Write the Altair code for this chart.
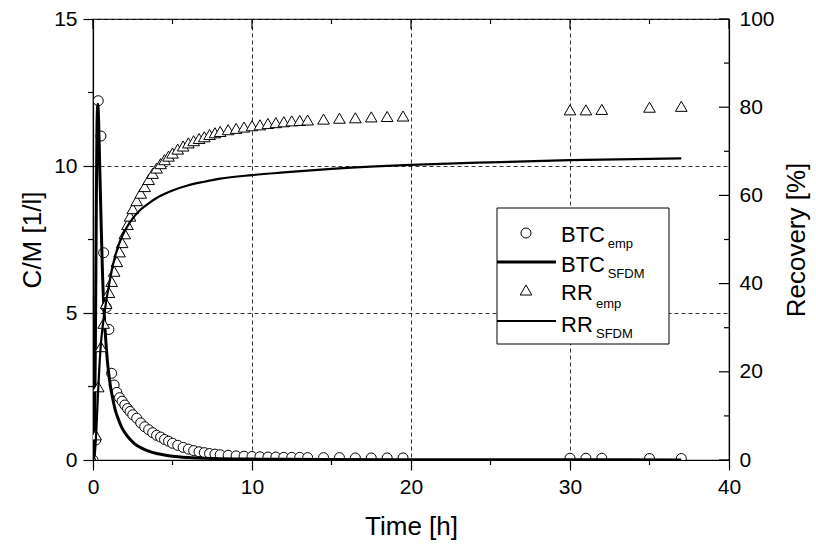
import altair as alt
import pandas as pd

# ---------------- data ----------------
t_emp = [0, 0.17, 0.33, 0.5, 0.67, 0.83, 1.0, 1.17, 1.33, 1.5, 1.67, 1.83, 2.0, 2.17, 2.33, 2.5,
         2.75, 3.0, 3.25, 3.5, 3.75, 4.0, 4.25, 4.5, 4.75, 5.0, 5.33, 5.67, 6.0, 6.33, 6.67, 7.0,
         7.33, 7.67, 8.0, 8.5, 9.0, 9.5, 10.0, 10.5, 11.0, 11.5, 12.0, 12.5, 13.0, 13.5, 14.5,
         15.5, 16.5, 17.5, 18.5, 19.5, 30, 31, 32, 35, 37]
btc_emp = [0, 0.68, 12.22, 11.02, 7.05, 5.19, 4.44, 2.95, 2.55, 2.3, 2.12, 2.0, 1.87, 1.75, 1.65, 1.54,
           1.42, 1.26, 1.13, 1.03, 0.93, 0.84, 0.78, 0.70, 0.64, 0.57, 0.50, 0.43, 0.37, 0.32, 0.28, 0.25,
           0.22, 0.20, 0.18, 0.16, 0.14, 0.13, 0.12, 0.11, 0.10, 0.10, 0.09, 0.09, 0.09, 0.08, 0.08,
           0.08, 0.07, 0.07, 0.07, 0.07, 0.06, 0.06, 0.06, 0.05, 0.05]
rr_emp = [0, 5.7, 16.6, 25.7, 31.0, 35.5, 38.0, 40.5, 42.8, 45.0, 47.2, 49.3, 51.3, 53.4, 55.3, 57.0,
          58.8, 60.5, 62.0, 63.6, 65.0, 66.2, 67.2, 68.1, 68.9, 69.6, 70.5, 71.2, 71.9, 72.4, 72.9, 73.3,
          73.8, 74.2, 74.5, 74.9, 75.2, 75.5, 75.8, 76.0, 76.3, 76.5, 76.7, 76.9, 77.0, 77.1, 77.3,
          77.5, 77.6, 77.8, 77.9, 78.0, 79.4, 79.4, 79.5, 80.0, 80.2]

t_btc_sfdm = [0, 0.05, 0.1, 0.15, 0.2, 0.25, 0.3, 0.35, 0.4, 0.5, 0.6, 0.7, 0.8, 0.9, 1.0, 1.1, 1.2,
              1.4, 1.6, 1.8, 2.0, 2.3, 2.6, 3.0, 3.5, 4.0, 4.5, 5, 6, 7, 8, 9, 10, 12, 15, 20, 25, 30, 37]
btc_sfdm = [0, 0.2, 1.2, 4.0, 8.0, 11.3, 12.1, 11.6, 10.5, 8.3, 6.3, 5.0, 4.1, 3.4, 2.9, 2.5, 2.2,
            1.7, 1.38, 1.12, 0.93, 0.72, 0.56, 0.42, 0.30, 0.22, 0.17, 0.13, 0.085, 0.06, 0.045, 0.035,
            0.03, 0.022, 0.016, 0.011, 0.008, 0.006, 0.004]

t_rr_sfdm = [0, 0.1, 0.2, 0.3, 0.4, 0.5, 0.6, 0.7, 0.8, 1.0, 1.2, 1.4, 1.7, 2.0, 2.5, 3.0, 3.5, 4,
             5, 6, 7, 8, 10, 12, 15, 20, 25, 30, 37]
rr_sfdm = [0, 1, 6, 14, 21, 26.5, 30, 32.8, 35.3, 39.5, 43.3, 46.3, 49.6, 52.0, 54.8, 56.8, 58.2, 59.4,
           61.1, 62.3, 63.1, 63.8, 64.6, 65.2, 66.0, 66.9, 67.5, 68.0, 68.4]

x_major = [0, 10, 20, 30, 40]
x_minor = [5, 15, 25, 35]
yl_major = [0, 5, 10, 15]
yl_minor = [2.5, 7.5, 12.5]
yr_major = [0, 20, 40, 60, 80, 100]
yr_minor = [10, 30, 50, 70, 90]

legend_main = ["BTC", "BTC", "RR", "RR"]
legend_sub = ["emp", "SFDM", "emp", "SFDM"]

x_title = "Time [h]"
yl_title = "C/M [1/l]"
yr_title = "Recovery [%]"

# ---------------- styling ----------------
FONT = "Liberation Sans"
W, H = 636, 441
LBL = 21
TTL = 26
CMAX, RMAX = 15, 100   # left axis top (C/M) and right axis top (%)

emp = pd.DataFrame({"t": t_emp, "btc": btc_emp, "rr": rr_emp})
sf_btc = pd.DataFrame({"t": t_btc_sfdm, "c": btc_sfdm})
sf_rr = pd.DataFrame({"t": t_rr_sfdm, "r": rr_sfdm})
one = pd.DataFrame({"a": [0]})

xs = alt.Scale(domain=[0, 40], nice=False, zero=False)
ys = alt.Scale(domain=[0, CMAX], nice=False)
K = f"{CMAX}/{RMAX}"   # right (%) values are drawn on the left scale through this ratio

common = dict(domainColor="black", domainWidth=1.2, tickColor="black", tickWidth=1.2,
              labelColor="black", titleColor="black", labelFont=FONT, titleFont=FONT,
              labelFontSize=LBL, titleFontSize=TTL, titleFontWeight="normal", labelFlush=False)

x_axis = alt.Axis(values=x_major, title=x_title, tickSize=10, labelPadding=6, titlePadding=16,
                  grid=True, gridDash=[4, 3], gridColor="#333", gridWidth=1, **common)
yl_axis = alt.Axis(values=yl_major, title=yl_title, tickSize=10, labelPadding=6, titlePadding=8,
                   grid=True, gridDash=[4, 3], gridColor="#333", gridWidth=1, **common)
yr_axis = alt.Axis(values=[v * CMAX / RMAX for v in yr_major], title=yr_title, orient="right",
                   ticks=False, labelPadding=10, titlePadding=9, grid=False, titleAngle=270,
                   titleBaseline="top",
                   labelExpr=f"round(datum.value * {RMAX} / {CMAX})", **common)

circles = alt.Chart(emp).mark_point(shape="circle", size=100, filled=True, fill="white",
                                     stroke="black", strokeWidth=1, opacity=1, clip=True).encode(
    x=alt.X("t:Q", scale=xs, axis=x_axis), y=alt.Y("btc:Q", scale=ys, axis=yl_axis))
btc_line = alt.Chart(sf_btc).mark_line(color="black", strokeWidth=3, interpolate="monotone",
                                        clip=True).encode(
    x=alt.X("t:Q", scale=xs, axis=None), y=alt.Y("c:Q", scale=ys, axis=None))

tri = alt.Chart(emp).transform_calculate(rr_s=f"datum.rr * {K}").mark_point(
    shape="triangle-up", size=135, filled=True, fill="white", stroke="black", strokeWidth=1,
    opacity=1, clip=True).encode(
    x=alt.X("t:Q", scale=xs, axis=None), y=alt.Y("rr_s:Q", scale=ys, axis=yr_axis))
rr_line = alt.Chart(sf_rr).transform_calculate(r_s=f"datum.r * {K}").mark_line(
    color="black", strokeWidth=2.2, interpolate="monotone", clip=True).encode(
    x=alt.X("t:Q", scale=xs, axis=None), y=alt.Y("r_s:Q", scale=ys, axis=None))


def vdf(vals):
    return pd.DataFrame({"v": vals})


def rule():
    return dict(color="black", strokeWidth=1.2)


left_minor = alt.Chart(vdf(yl_minor)).mark_rule(**rule()).encode(
    y=alt.Y("v:Q", scale=ys, axis=None), x=alt.value(-5), x2=alt.value(0))
bottom_minor = alt.Chart(vdf(x_minor)).mark_rule(**rule()).encode(
    x=alt.X("v:Q", scale=xs, axis=None), y=alt.value(H), y2=alt.value(H + 5))
top_major = alt.Chart(vdf(x_major)).mark_rule(**rule()).encode(
    x=alt.X("v:Q", scale=xs, axis=None), y=alt.value(0), y2=alt.value(10))
top_minor = alt.Chart(vdf(x_minor)).mark_rule(**rule()).encode(
    x=alt.X("v:Q", scale=xs, axis=None), y=alt.value(0), y2=alt.value(5))
right_major = alt.Chart(vdf(yr_major)).transform_calculate(vs=f"datum.v * {K}").mark_rule(
    **rule()).encode(y=alt.Y("vs:Q", scale=ys, axis=None), x=alt.value(W - 10), x2=alt.value(W))
right_minor = alt.Chart(vdf(yr_minor)).transform_calculate(vs=f"datum.v * {K}").mark_rule(
    **rule()).encode(y=alt.Y("vs:Q", scale=ys, axis=None), x=alt.value(W - 5), x2=alt.value(W))

# ---------------- legend (drawn by hand to allow subscripts) ----------------
box = alt.Chart(one).mark_rect(fill="white", stroke="black", strokeWidth=1).encode(
    x=alt.value(404), x2=alt.value(576), y=alt.value(189), y2=alt.value(325))
leg_c = alt.Chart(one).mark_point(shape="circle", size=100, filled=True, fill="white",
                                   stroke="black", strokeWidth=1, opacity=1).encode(
    x=alt.value(433), y=alt.value(214))
leg_t = alt.Chart(one).mark_point(shape="triangle-up", size=135, filled=True, fill="white",
                                   stroke="black", strokeWidth=1, opacity=1).encode(
    x=alt.value(433), y=alt.value(271))
leg_l1 = alt.Chart(one).mark_rule(color="black", strokeWidth=3).encode(
    x=alt.value(404), x2=alt.value(463), y=alt.value(243))
leg_l2 = alt.Chart(one).mark_rule(color="black", strokeWidth=2.2).encode(
    x=alt.value(404), x2=alt.value(463), y=alt.value(302))

main_y = [223, 252.7, 281, 312.7]
sub_y = [229.3, 259.3, 289, 319.3]
sub_x = [514.7, 514.7, 503, 503]
texts = []
for i in range(4):
    texts.append(alt.Chart(one).mark_text(align="left", baseline="alphabetic", font=FONT,
                                          fontSize=22, color="black").encode(
        x=alt.value(468), y=alt.value(main_y[i]), text=alt.value(legend_main[i])))
    texts.append(alt.Chart(one).mark_text(align="left", baseline="alphabetic", font=FONT,
                                          fontSize=13, color="black").encode(
        x=alt.value(sub_x[i]), y=alt.value(sub_y[i]), text=alt.value(legend_sub[i])))

chart = alt.layer(
    circles, btc_line, tri, rr_line,
    left_minor, bottom_minor, top_major, top_minor, right_major, right_minor,
    box, leg_c, leg_t, leg_l1, leg_l2, *texts,
).resolve_axis(x="independent", y="independent").properties(
    width=W, height=H,
    padding={"left": 19, "top": 8, "right": 5, "bottom": 5},
    background="white",
).configure_view(stroke="black", strokeWidth=1.2)

chart.save("out.html", embed_options={"renderer": "svg", "actions": False})
